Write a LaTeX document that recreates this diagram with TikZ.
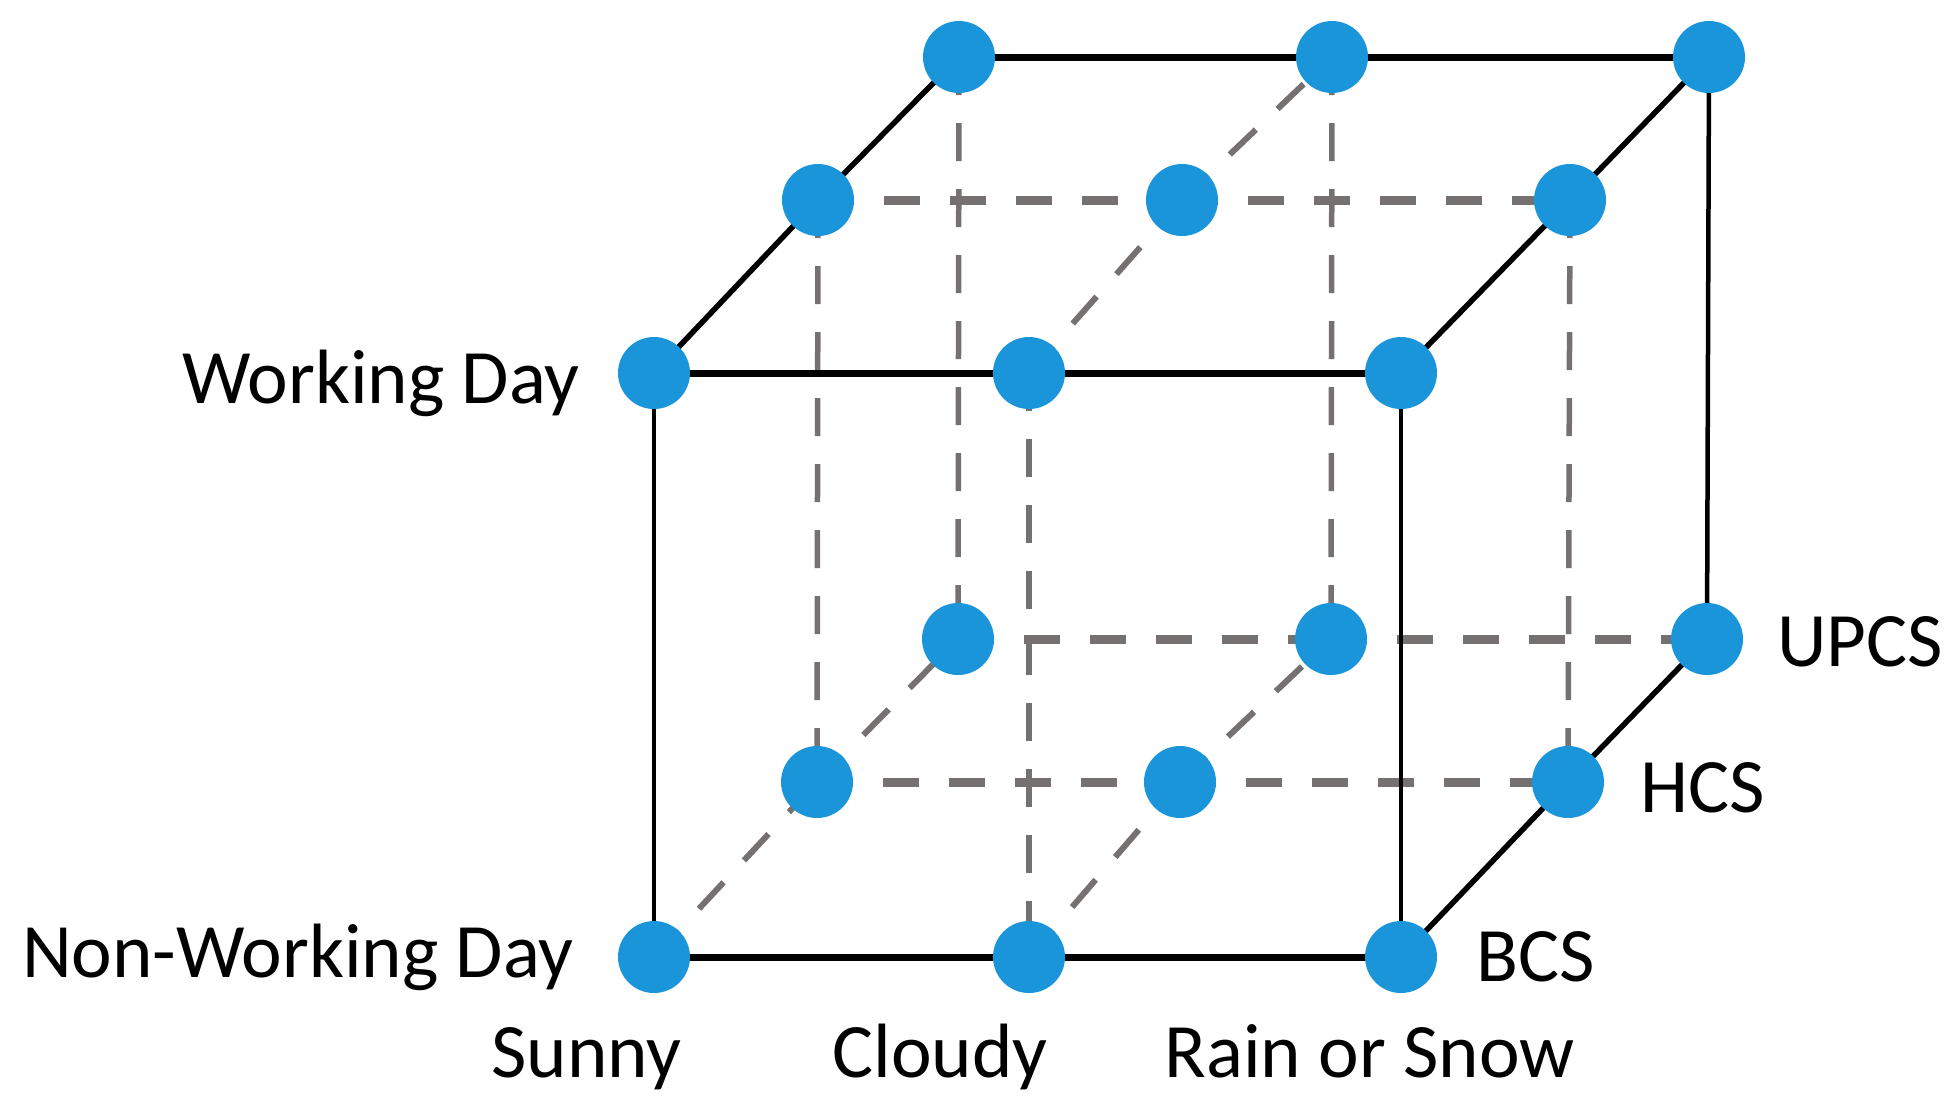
\documentclass[tikz,border=0pt]{standalone}
\usepackage{fontspec}
\setmainfont{Carlito}
\definecolor{dotblue}{RGB}{27,149,217}
\definecolor{dashgray}{RGB}{118,113,113}
\pgfdeclarelayer{bg}
\pgfsetlayers{bg,main}
\begin{document}
\begin{tikzpicture}[x=0.5pt,y=-0.5pt,
  dot/.style={circle,fill=dotblue,draw=none,minimum size=36pt,inner sep=0pt},
  solidh/.style={black,line width=3.5pt},
  solidv/.style={black,line width=2.25pt},
  solidd/.style={black,line width=2.75pt},
  hiddenh/.style={dashgray,line width=4.5pt,dash pattern=on 18pt off 15pt},
  hiddenv/.style={dashgray,line width=2.75pt,dash pattern=on 19pt off 14pt},
  hiddend/.style={dashgray,line width=3pt,dash pattern=on 18pt off 15pt},
  lab/.style={inner sep=0pt,font=\fontsize{38.5}{46}\selectfont}]
\useasboundingbox (0,0) rectangle (1954,1110);
% front layer
\node[dot] (FLt) at (654,373) {};
\node[dot] (FMt) at (1029,373) {};
\node[dot] (FRt) at (1401,373) {};
\node[dot] (FLb) at (654,957) {};
\node[dot] (FMb) at (1029,957) {};
\node[dot] (FRb) at (1401,957) {};
% middle layer
\node[dot] (MLt) at (818,200) {};
\node[dot] (MMt) at (1182,200) {};
\node[dot] (MRt) at (1570,200) {};
\node[dot] (MLb) at (817,782) {};
\node[dot] (MMb) at (1180,782) {};
\node[dot] (MRb) at (1568,782) {};
% back layer
\node[dot] (BLt) at (959,57) {};
\node[dot] (BMt) at (1332,57) {};
\node[dot] (BRt) at (1709,57) {};
\node[dot] (BLb) at (958,639) {};
\node[dot] (BMb) at (1331,639) {};
\node[dot] (BRb) at (1707,639) {};
\begin{pgfonlayer}{bg}
% hidden (dashed) edges
\draw[hiddenh] (MLt.center) -- (MMt.center);
\draw[hiddenh] (MMt.center) -- (MRt.center);
\draw[hiddend] (FMt.center) -- (MMt.center);
\draw[hiddend] (MMt.center) -- (BMt.center);
\draw[hiddenv] (BLt.center) -- (BLb.center);
\draw[hiddenv] (BMt.center) -- (BMb.center);
\draw[hiddenv] (MLt.center) -- (MLb.center);
\draw[hiddenv] (MRt.center) -- (MRb.center);
\draw[hiddenv] (FMt.center) -- (FMb.center);
\draw[hiddenh] (BLb.center) -- (BMb.center);
\draw[hiddenh] (BMb.center) -- (BRb.center);
\draw[hiddenh] (MLb.center) -- (MMb.center);
\draw[hiddenh] (MMb.center) -- (MRb.center);
\draw[hiddend] (FLb.center) -- (MLb.center);
\draw[hiddend] (MLb.center) -- (BLb.center);
\draw[hiddend] (FMb.center) -- (MMb.center);
\draw[hiddend] (MMb.center) -- (BMb.center);
% visible edges
\draw[solidh] (FLt.center) -- (FMt.center) -- (FRt.center);
\draw[solidh] (FLb.center) -- (FMb.center) -- (FRb.center);
\draw[solidv] (FLt.center) -- (FLb.center);
\draw[solidv] (FRt.center) -- (FRb.center);
\draw[solidh] (BLt.center) -- (BMt.center) -- (BRt.center);
\draw[solidd] (FLt.center) -- (MLt.center) -- (BLt.center);
\draw[solidd] (FRt.center) -- (MRt.center) -- (BRt.center);
\draw[solidv] (BRt.center) -- (BRb.center);
\draw[solidd] (FRb.center) -- (MRb.center) -- (BRb.center);
\end{pgfonlayer}
% labels
\node[lab,anchor=base east] (wd) at (580,403) {Working Day};
\node[lab,anchor=base east] (nwd) at (574,977) {Non-Working Day};
\node[lab,anchor=base west] (sunny) at (491,1077) {Sunny};
\node[lab,anchor=base west] (cloudy) at (832,1077) {Cloudy};
\node[lab,anchor=base west] (rain) at (1164,1077) {Rain or Snow};
\node[lab,anchor=base west] (bcs) at (1476,981) {BCS};
\node[lab,anchor=base west] (hcs) at (1640,812) {HCS};
\node[lab,anchor=base west] (upcs) at (1777,666) {UPCS};
\end{tikzpicture}
\end{document}
